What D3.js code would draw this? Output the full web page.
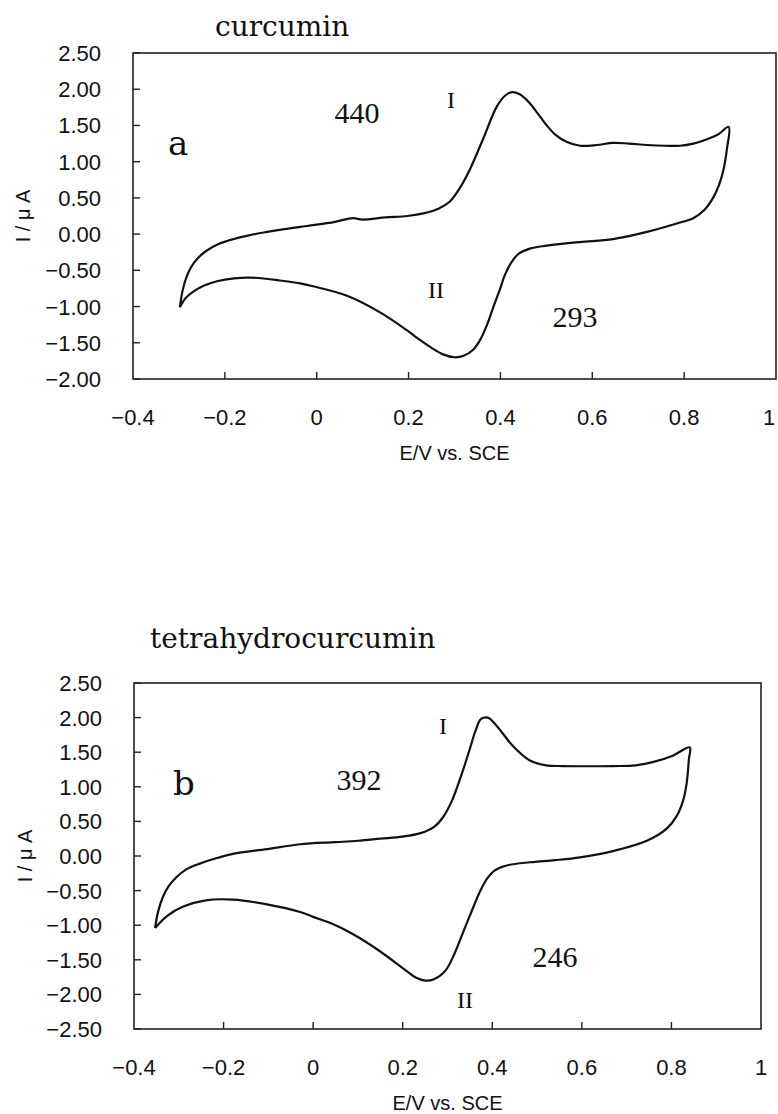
<!DOCTYPE html>
<html>
<head>
<meta charset="utf-8">
<script src="https://cdn.jsdelivr.net/npm/d3@7"></script>
<style>
  body { margin: 0; background: #fff; }
  svg { display: block; }
  .tick-label { font-family: "Liberation Sans", Arial, sans-serif; font-size: 22px; fill: #111; }
  .axis-title { font-family: "Liberation Sans", Arial, sans-serif; font-size: 20px; fill: #111; }
  .serif { font-family: "DejaVu Serif", serif; fill: #111; }
  .num { font-family: "Liberation Serif", "Times New Roman", serif; fill: #111; }
</style>
</head>
<body>
<svg id="chart" width="778" height="1114"></svg>
<script>
// tick values
var xTicks = [-0.4, -0.2, 0, 0.2, 0.4, 0.6, 0.8, 1];
var yTicksA = [2.5, 2, 1.5, 1, 0.5, 0, -0.5, -1, -1.5, -2];
var yTicksB = [2.5, 2, 1.5, 1, 0.5, 0, -0.5, -1, -1.5, -2, -2.5];

// curcumin loop (E in V, I in uA), forward sweep then reverse
var curcuminE = [-0.298, -0.292, -0.284, -0.274, -0.26, -0.24, -0.215, -0.182, -0.15, -0.108, -0.07, -0.036, 0.0, 0.04, 0.079, 0.1, 0.15, 0.197, 0.235, 0.265, 0.29, 0.31, 0.334, 0.362, 0.392, 0.41, 0.425, 0.442, 0.462, 0.482, 0.501, 0.52, 0.545, 0.573, 0.61, 0.645, 0.68, 0.719, 0.76, 0.791, 0.82, 0.85, 0.875, 0.897,
  0.893, 0.886, 0.876, 0.863, 0.845, 0.82, 0.791, 0.719, 0.645, 0.573, 0.501, 0.464, 0.44, 0.425, 0.41, 0.399, 0.385, 0.371, 0.355, 0.34, 0.32, 0.3, 0.275, 0.25, 0.22, 0.197, 0.138, 0.066, -0.008, -0.036, -0.08, -0.145, -0.18, -0.217, -0.245, -0.268, -0.285, -0.298];
var curcuminI = [-1.01, -0.78, -0.6, -0.46, -0.34, -0.23, -0.14, -0.07, -0.02, 0.03, 0.07, 0.1, 0.13, 0.17, 0.22, 0.2, 0.23, 0.25, 0.29, 0.35, 0.45, 0.62, 0.9, 1.31, 1.76, 1.91, 1.96, 1.93, 1.82, 1.66, 1.5, 1.37, 1.27, 1.22, 1.23, 1.26, 1.25, 1.23, 1.22, 1.22, 1.25, 1.31, 1.38, 1.48,
  1.17, 0.9, 0.68, 0.5, 0.34, 0.22, 0.16, 0.03, -0.07, -0.11, -0.16, -0.2, -0.27, -0.38, -0.56, -0.76, -1.0, -1.25, -1.47, -1.6, -1.68, -1.7, -1.66, -1.57, -1.44, -1.33, -1.08, -0.85, -0.72, -0.68, -0.64, -0.6, -0.61, -0.65, -0.71, -0.79, -0.88, -1.01];

// tetrahydrocurcumin loop
var thcE = [-0.353, -0.346, -0.336, -0.323, -0.306, -0.285, -0.253, -0.22, -0.179, -0.103, -0.029, 0.05, 0.1, 0.15, 0.2, 0.24, 0.27, 0.29, 0.31, 0.33, 0.35, 0.362, 0.375, 0.39, 0.41, 0.446, 0.484, 0.52, 0.558, 0.67, 0.72, 0.76, 0.803, 0.841,
  0.839, 0.834, 0.826, 0.812, 0.79, 0.745, 0.669, 0.596, 0.54, 0.484, 0.43, 0.405, 0.388, 0.372, 0.355, 0.335, 0.315, 0.295, 0.27, 0.25, 0.23, 0.2, 0.15, 0.1, 0.05, 0.0, -0.029, -0.103, -0.179, -0.24, -0.29, -0.325, -0.353];
var thcI = [-1.04, -0.8, -0.6, -0.44, -0.31, -0.2, -0.11, -0.04, 0.03, 0.1, 0.17, 0.2, 0.22, 0.25, 0.28, 0.33, 0.42, 0.56, 0.8, 1.15, 1.55, 1.8, 1.98, 2.0, 1.88, 1.59, 1.38, 1.31, 1.3, 1.3, 1.31, 1.36, 1.45, 1.57,
  1.4, 1.05, 0.8, 0.58, 0.4, 0.22, 0.07, -0.02, -0.06, -0.09, -0.14, -0.21, -0.33, -0.52, -0.78, -1.1, -1.42, -1.66, -1.78, -1.8, -1.76, -1.62, -1.38, -1.17, -1.0, -0.88, -0.81, -0.7, -0.63, -0.64, -0.73, -0.86, -1.04];

var svg = d3.select("#chart");
svg.append("rect").attr("width", 778).attr("height", 1114).attr("fill", "#fff");

function drawPanel(opt) {
  var x = d3.scaleLinear().domain([-0.4, 1]).range([opt.left, opt.right]);
  var y = d3.scaleLinear().domain([opt.yTicks[opt.yTicks.length - 1], opt.yTicks[0]]).range([opt.bottom, opt.top]);
  var g = svg.append("g");

  // frame
  g.append("rect")
    .attr("x", opt.left).attr("y", opt.top)
    .attr("width", opt.right - opt.left).attr("height", opt.bottom - opt.top)
    .attr("fill", "none").attr("stroke", "#222").attr("stroke-width", 1.6);

  // y ticks (inward) + labels
  g.selectAll(".yt").data(opt.yTicks).enter().append("line")
    .attr("x1", opt.left).attr("x2", opt.left + 7)
    .attr("y1", function (d) { return y(d); }).attr("y2", function (d) { return y(d); })
    .attr("stroke", "#222").attr("stroke-width", 1.4);
  g.selectAll(".yl").data(opt.yTicks).enter().append("text")
    .attr("class", "tick-label")
    .attr("x", opt.left - 32).attr("y", function (d) { return y(d) + 8; })
    .attr("text-anchor", "end")
    .text(function (d) { return d3.format(".2f")(d).replace("-", "\u2212"); });

  // x ticks (inward) + labels
  g.selectAll(".xt").data(xTicks.slice(1, -1)).enter().append("line")
    .attr("x1", function (d) { return x(d); }).attr("x2", function (d) { return x(d); })
    .attr("y1", opt.bottom).attr("y2", opt.bottom - 7)
    .attr("stroke", "#222").attr("stroke-width", 1.4);
  g.selectAll(".xl").data(xTicks).enter().append("text")
    .attr("class", "tick-label")
    .attr("x", function (d) { return Math.min(x(d), 769); }).attr("y", opt.bottom + 46)
    .attr("text-anchor", "middle")
    .text(function (d) { return String(d).replace("-", "\u2212"); });

  // axis titles
  g.append("text").attr("class", "axis-title")
    .attr("x", (opt.left + opt.right) / 2).attr("y", opt.bottom + 81)
    .attr("text-anchor", "middle").text("E/V vs. SCE");
  g.append("text").attr("class", "axis-title")
    .attr("transform", "translate(" + (opt.yTitleX) + "," + ((opt.top + opt.bottom) / 2) + ") rotate(-90)")
    .attr("text-anchor", "middle").attr("font-size", "23px").text("I / \u03bc A");

  // CV curve
  var pts = opt.E.map(function (e, i) { return [e, opt.I[i]]; });
  var line = d3.line()
    .x(function (d) { return x(d[0]); })
    .y(function (d) { return y(d[1]); })
    .curve(d3.curveCatmullRom.alpha(0.5));
  g.append("path").attr("d", line(pts))
    .attr("fill", "none").attr("stroke", "#111").attr("stroke-width", 2.2)
    .attr("stroke-linejoin", "round");

  // title and annotations
  g.append("text").attr("class", "serif").attr("font-size", "28px")
    .attr("x", opt.titleX).attr("y", opt.titleY).text(opt.title);
  g.append("text").attr("class", "serif").attr("font-size", "34px")
    .attr("x", opt.letter[1]).attr("y", opt.letter[2]).text(opt.letter[0]);
  opt.notes.forEach(function (n) {
    g.append("text").attr("class", "num").attr("font-size", n[3] + "px")
      .attr("x", n[1]).attr("y", n[2]).attr("text-anchor", "middle").text(n[0]);
  });
}

drawPanel({
  left: 133, right: 776, top: 53, bottom: 379,
  yTicks: yTicksA, E: curcuminE, I: curcuminI, yTitleX: 30,
  title: "curcumin", titleX: 215, titleY: 36,
  letter: ["a", 168, 155],
  notes: [["440", 357, 123, 30], ["I", 451, 108, 24], ["II", 436, 298, 24], ["293", 575, 327, 30]]
});

drawPanel({
  left: 134, right: 761, top: 683, bottom: 1029,
  yTicks: yTicksB, E: thcE, I: thcI, yTitleX: 32,
  title: "tetrahydrocurcumin", titleX: 150, titleY: 648,
  letter: ["b", 173, 795],
  notes: [["392", 359, 790, 30], ["I", 443, 734, 24], ["II", 465, 1008, 24], ["246", 555, 967, 30]]
});
</script>
</body>
</html>
